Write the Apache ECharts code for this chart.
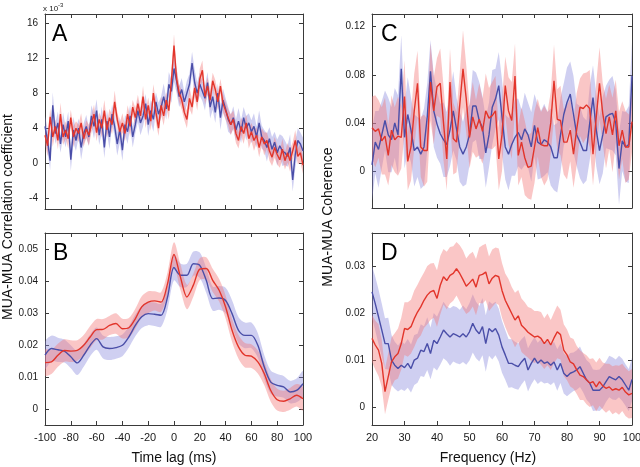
<!DOCTYPE html>
<html><head><meta charset="utf-8">
<script src="https://cdn.jsdelivr.net/npm/echarts@6/dist/echarts.min.js"></script>
<style>html,body{margin:0;padding:0;background:#fff}#c{width:640px;height:467px}</style>
</head><body><div id="c"></div>
<script>
// ---------- Panel A: cross-correlation (x 1e-3), lag -100..100 ms, 2 ms steps ----------
const aLags = Array.from({length: 101}, (_, i) => -100 + 2 * i);
const aRed = [
  3.2,2.0,5.3,3.0,4.2,2.6,5.6,3.0,3.8,2.8,
  5.2,3.0,4.0,3.4,4.6,2.8,3.9,3.2,4.4,5.6,
  3.5,5.0,4.0,6.0,3.8,5.2,4.4,7.0,5.0,3.6,
  4.6,3.4,5.6,4.2,6.4,5.2,6.8,5.4,7.6,5.0,
  6.6,4.8,8.0,5.8,4.0,6.6,5.4,7.2,6.0,9.4,
  13.4,9.6,8.0,7.2,5.8,5.0,7.4,6.4,8.6,7.0,
  9.6,10.6,7.6,8.8,7.2,9.4,8.4,7.0,8.8,6.8,
  6.0,5.2,4.4,5.0,3.4,2.6,4.2,3.4,4.6,2.8,
  3.6,2.6,3.2,1.8,3.0,2.2,2.6,1.4,0.7,1.8,
  1.0,0.4,1.6,0.3,1.2,0.3,1.4,2.6,0.8,1.2,
  -0.2];
const aRedErr = [
  1.0,1.2,0.9,1.1,0.8,1.0,1.3,0.9,1.0,1.1,
  0.9,1.2,0.8,1.0,1.1,0.9,1.0,1.2,0.9,1.1,
  1.0,0.8,1.1,1.2,0.9,1.0,1.1,1.3,0.9,1.0,
  1.1,0.9,1.0,1.2,0.8,1.1,1.0,0.9,1.2,1.0,
  0.9,1.1,1.0,1.2,0.9,1.0,1.1,0.9,1.0,1.2,
  1.3,1.2,1.0,1.1,0.9,1.0,1.2,0.9,1.1,1.0,
  1.2,1.1,0.9,1.0,1.2,0.9,1.1,1.0,0.8,1.1,
  1.0,0.9,1.2,1.0,1.1,0.9,1.0,1.2,0.9,1.1,
  1.0,1.2,0.9,1.1,1.0,1.3,0.9,1.1,1.0,1.2,
  1.1,0.9,1.2,1.0,1.1,1.3,1.0,1.2,0.9,1.1,
  1.0];
const aBlue = [
  4.2,2.6,0.3,6.6,3.4,4.6,2.2,4.4,3.0,4.8,
  0.4,3.8,2.6,4.0,1.8,3.4,4.2,3.0,5.4,4.2,
  6.0,3.2,5.0,1.8,4.8,3.0,5.6,4.2,2.2,3.8,
  1.5,4.4,3.6,5.4,3.0,4.4,6.0,4.6,5.4,6.8,
  4.4,6.0,5.0,7.0,5.6,6.4,7.6,6.2,9.0,8.2,
  10.8,9.4,7.6,8.4,7.0,8.0,9.0,11.4,9.2,8.0,
  9.0,8.2,7.4,9.2,6.4,7.6,5.8,8.0,5.2,7.2,
  6.2,5.0,4.4,5.2,3.8,4.8,3.6,5.2,4.0,4.6,
  3.6,4.2,3.0,4.6,3.0,2.6,1.8,2.8,1.6,2.4,
  1.2,2.0,1.4,1.2,0.8,1.8,-1.9,1.0,2.6,2.2,
  1.4];
const aBlueErr = [
  1.2,1.4,1.1,1.5,1.2,1.3,1.0,1.4,1.2,1.1,
  1.3,1.5,1.2,1.1,1.4,1.2,1.3,1.0,1.2,1.4,
  1.3,1.1,1.5,1.2,1.3,1.4,1.1,1.2,1.3,1.5,
  1.2,1.1,1.4,1.3,1.2,1.0,1.3,1.4,1.2,1.1,
  1.3,1.2,1.4,1.1,1.3,1.2,1.5,1.2,1.4,1.3,
  1.5,1.4,1.2,1.3,1.1,1.4,1.2,1.3,1.5,1.2,
  1.3,1.1,1.4,1.2,1.3,1.5,1.2,1.1,1.4,1.3,
  1.2,1.4,1.1,1.3,1.2,1.5,1.3,1.2,1.4,1.1,
  1.3,1.5,1.2,1.4,1.3,1.2,1.6,1.3,1.4,1.2,
  1.5,1.3,1.7,1.4,1.2,1.5,1.3,1.6,1.4,1.3,
  1.5];

// ---------- Panel B: smoothed correlation, 5 ms steps ----------
const bLags = Array.from({length: 41}, (_, i) => -100 + 5 * i);
const bRed = [
  0.0146,0.0148,0.0169,0.0184,0.0182,0.0184,0.0200,0.0226,0.0249,0.0250,
  0.0262,0.0268,0.0252,0.0255,0.0283,0.0320,0.0335,0.0339,0.0335,0.0393,
  0.0484,0.0413,0.0351,0.0388,0.0438,0.0440,0.0403,0.0372,0.0320,0.0247,
  0.0195,0.0169,0.0166,0.0148,0.0111,0.0059,0.0030,0.0025,0.0033,0.0044,
  0.0033];
const bRedErr = [
  0.0040,0.0038,0.0036,0.0035,0.0034,0.0032,0.0032,0.0034,0.0033,0.0032,
  0.0030,0.0032,0.0031,0.0030,0.0031,0.0033,0.0034,0.0030,0.0031,0.0035,
  0.0038,0.0040,0.0038,0.0036,0.0034,0.0035,0.0036,0.0035,0.0036,0.0036,
  0.0037,0.0038,0.0037,0.0036,0.0036,0.0035,0.0034,0.0033,0.0034,0.0035,
  0.0036];
const bBlue = [
  0.0169,0.0190,0.0186,0.0182,0.0164,0.0145,0.0169,0.0200,0.0221,0.0195,
  0.0190,0.0193,0.0200,0.0226,0.0262,0.0289,0.0299,0.0297,0.0294,0.0351,
  0.0443,0.0419,0.0419,0.0455,0.0450,0.0403,0.0346,0.0348,0.0340,0.0299,
  0.0247,0.0231,0.0231,0.0200,0.0132,0.0085,0.0075,0.0070,0.0054,0.0059,
  0.0080];
const bBlueErr = [
  0.0042,0.0040,0.0038,0.0036,0.0036,0.0038,0.0036,0.0034,0.0035,0.0036,
  0.0036,0.0035,0.0034,0.0033,0.0034,0.0035,0.0036,0.0037,0.0036,0.0038,
  0.0040,0.0037,0.0036,0.0038,0.0040,0.0039,0.0038,0.0037,0.0040,0.0042,
  0.0041,0.0040,0.0040,0.0038,0.0037,0.0036,0.0035,0.0034,0.0035,0.0037,
  0.0039];

// ---------- Panels C and D: coherence, 20..100 Hz, 1 Hz steps ----------
const freqs = Array.from({length: 81}, (_, i) => 20 + i);
const cRed = [
  0.036,0.033,0.035,0.025,0.029,0.013,0.034,0.026,0.029,0.028,
  0.062,0.008,0.020,0.050,0.073,0.020,0.017,0.017,0.074,0.050,
  0.070,0.073,0.040,0.010,0.074,0.027,0.024,0.055,0.085,0.060,
  0.028,0.045,0.035,0.043,0.033,0.050,0.044,0.046,0.050,0.010,
  0.030,0.071,0.050,0.042,0.079,0.013,0.024,0.011,0.003,0.004,
  0.020,0.036,0.022,0.021,0.021,0.040,0.075,0.043,0.042,0.024,
  0.024,0.034,0.014,0.035,0.053,0.052,0.055,0.052,0.014,0.045,
  0.073,0.048,0.031,0.045,0.030,0.050,0.021,0.034,0.020,0.020,
  0.041];
const cRedErr = [
  0.026,0.030,0.024,0.028,0.032,0.025,0.029,0.027,0.033,0.026,
  0.030,0.024,0.028,0.031,0.027,0.025,0.030,0.026,0.032,0.028,
  0.024,0.029,0.031,0.026,0.028,0.030,0.025,0.027,0.032,0.028,
  0.026,0.029,0.024,0.030,0.027,0.031,0.025,0.028,0.029,0.026,
  0.030,0.024,0.028,0.032,0.027,0.025,0.029,0.031,0.026,0.028,
  0.030,0.024,0.027,0.033,0.028,0.026,0.030,0.025,0.029,0.027,
  0.031,0.026,0.028,0.030,0.024,0.029,0.027,0.032,0.026,0.028,
  0.030,0.025,0.029,0.027,0.031,0.026,0.028,0.024,0.030,0.027,
  0.025];
const cBlue = [
  0.005,0.024,0.018,0.030,0.042,0.030,0.026,0.040,0.030,0.085,
  0.028,0.047,0.034,0.017,0.020,0.014,0.020,0.045,0.083,0.050,
  0.039,0.031,0.026,0.022,0.034,0.050,0.035,0.020,0.014,0.020,
  0.030,0.054,0.054,0.042,0.036,0.015,0.030,0.053,0.060,0.071,
  0.045,0.020,0.014,0.022,0.028,0.032,0.026,0.035,0.030,0.020,
  0.038,0.024,0.022,0.026,0.024,0.020,0.011,0.011,0.030,0.047,
  0.057,0.064,0.047,0.030,0.024,0.017,0.017,0.040,0.061,0.034,
  0.017,0.030,0.045,0.047,0.048,0.040,0.002,0.025,0.020,0.022,
  0.079];
const cBlueErr = [
  0.030,0.026,0.032,0.028,0.025,0.031,0.027,0.029,0.033,0.028,
  0.026,0.031,0.027,0.030,0.025,0.029,0.032,0.028,0.026,0.030,
  0.028,0.025,0.031,0.027,0.030,0.033,0.026,0.029,0.027,0.031,
  0.025,0.030,0.028,0.032,0.026,0.029,0.027,0.031,0.025,0.028,
  0.031,0.027,0.030,0.026,0.032,0.028,0.025,0.030,0.027,0.029,
  0.026,0.031,0.028,0.030,0.025,0.032,0.027,0.029,0.031,0.026,
  0.029,0.027,0.032,0.026,0.030,0.028,0.025,0.031,0.027,0.030,
  0.028,0.032,0.026,0.029,0.031,0.027,0.030,0.025,0.029,0.032,
  0.028];
const dRed = [
  0.0147,0.0133,0.0122,0.0094,0.0034,0.0066,0.0097,0.0108,0.0115,0.0136,
  0.0168,0.0166,0.0172,0.0189,0.0203,0.0214,0.0228,0.0239,0.0246,0.0249,
  0.0232,0.0260,0.0278,0.0270,0.0281,0.0285,0.0295,0.0285,0.0272,0.0258,
  0.0265,0.0273,0.0256,0.0281,0.0283,0.0288,0.0263,0.0275,0.0281,0.0278,
  0.0249,0.0228,0.0214,0.0200,0.0186,0.0195,0.0175,0.0168,0.0160,0.0155,
  0.0150,0.0152,0.0147,0.0136,0.0145,0.0133,0.0148,0.0161,0.0155,0.0122,
  0.0112,0.0097,0.0093,0.0080,0.0069,0.0066,0.0059,0.0052,0.0055,0.0044,
  0.0055,0.0046,0.0041,0.0044,0.0037,0.0040,0.0037,0.0043,0.0033,0.0027,
  0.0030];
const dRedErr = [
  0.0050,0.0052,0.0055,0.0050,0.0048,0.0050,0.0052,0.0050,0.0053,0.0055,
  0.0056,0.0058,0.0057,0.0060,0.0058,0.0061,0.0059,0.0062,0.0060,0.0058,
  0.0060,0.0062,0.0059,0.0061,0.0060,0.0058,0.0057,0.0060,0.0062,0.0059,
  0.0061,0.0058,0.0060,0.0059,0.0062,0.0060,0.0058,0.0061,0.0059,0.0060,
  0.0058,0.0057,0.0059,0.0056,0.0058,0.0055,0.0057,0.0056,0.0054,0.0056,
  0.0055,0.0053,0.0056,0.0054,0.0055,0.0053,0.0054,0.0056,0.0053,0.0055,
  0.0054,0.0052,0.0053,0.0051,0.0053,0.0050,0.0052,0.0051,0.0050,0.0052,
  0.0051,0.0050,0.0052,0.0049,0.0051,0.0050,0.0052,0.0050,0.0051,0.0050,
  0.0052];
const dBlue = [
  0.0246,0.0221,0.0193,0.0165,0.0136,0.0136,0.0101,0.0090,0.0083,0.0090,
  0.0085,0.0094,0.0083,0.0101,0.0105,0.0122,0.0119,0.0136,0.0115,0.0143,
  0.0136,0.0150,0.0165,0.0157,0.0150,0.0157,0.0154,0.0150,0.0157,0.0150,
  0.0161,0.0179,0.0165,0.0157,0.0172,0.0136,0.0168,0.0161,0.0168,0.0154,
  0.0129,0.0112,0.0094,0.0094,0.0090,0.0087,0.0097,0.0105,0.0080,0.0094,
  0.0105,0.0094,0.0101,0.0094,0.0097,0.0090,0.0097,0.0080,0.0094,0.0073,
  0.0066,0.0073,0.0076,0.0080,0.0087,0.0073,0.0059,0.0052,0.0037,0.0037,
  0.0037,0.0044,0.0055,0.0066,0.0062,0.0059,0.0066,0.0059,0.0048,0.0037,
  0.0060];
const dBlueErr = [
  0.0055,0.0057,0.0058,0.0056,0.0054,0.0055,0.0053,0.0050,0.0049,0.0051,
  0.0050,0.0052,0.0051,0.0053,0.0052,0.0055,0.0054,0.0056,0.0055,0.0058,
  0.0057,0.0059,0.0060,0.0058,0.0061,0.0059,0.0060,0.0058,0.0060,0.0059,
  0.0061,0.0062,0.0060,0.0059,0.0061,0.0060,0.0058,0.0059,0.0057,0.0056,
  0.0055,0.0053,0.0052,0.0051,0.0050,0.0049,0.0048,0.0047,0.0046,0.0045,
  0.0045,0.0044,0.0045,0.0043,0.0044,0.0042,0.0043,0.0044,0.0042,0.0043,
  0.0042,0.0043,0.0041,0.0042,0.0043,0.0041,0.0042,0.0043,0.0044,0.0043,
  0.0044,0.0045,0.0043,0.0044,0.0045,0.0043,0.0044,0.0045,0.0044,0.0045,
  0.0046];

// ---------- tick labels ----------
const lagTicks = [-100,-80,-60,-40,-20,0,20,40,60,80,100];
const freqTicks = [20,30,40,50,60,70,80,90,100];
const aYTicks = [-4,0,4,8,12,16];
const bYTicks = [0,0.01,0.02,0.03,0.04,0.05];
const cYTicks = [0,0.04,0.08,0.12];
const dYTicks = [0,0.01,0.02,0.03];

const FONT = 'Liberation Sans, Arial, Helvetica, sans-serif';
const RED = '#e2352b', BLUE = '#4a4ea8';
const RED_BAND = 'rgba(242,120,120,0.42)', BLUE_BAND = 'rgba(135,135,220,0.40)';
const AX = '#3a3a3a';

const grids = [
  {left: 45, top: 14, width: 258, height: 195},
  {left: 45, top: 233, width: 258, height: 192},
  {left: 372, top: 14, width: 260, height: 194},
  {left: 372, top: 233, width: 260, height: 192}
];
const panels = [
  {xr: [-100, 100], yr: [-5.2, 17.0], xt: lagTicks, yt: aYTicks, xlab: false},
  {xr: [-100, 100], yr: [-0.0049, 0.0551], xt: lagTicks, yt: bYTicks, xlab: true},
  {xr: [20, 100], yr: [-0.0308, 0.1306], xt: freqTicks, yt: cYTicks, xlab: false},
  {xr: [20, 100], yr: [-0.0037, 0.0371], xt: freqTicks, yt: dYTicks, xlab: true}
];

const xAxes = [], yAxes = [];
panels.forEach((p, g) => {
  ['bottom', 'top'].forEach(pos => {
    xAxes.push({
      type: 'value', gridIndex: g, position: pos, min: p.xr[0], max: p.xr[1],
      splitLine: {show: false},
      axisLine: {show: true, onZero: false, lineStyle: {color: AX, width: 1}},
      axisTick: {show: true, inside: true, length: 4, lineStyle: {color: AX}, customValues: p.xt},
      axisLabel: {show: pos === 'bottom' && p.xlab, customValues: p.xt, margin: 7,
                  color: '#1a1a1a', fontSize: 11, fontFamily: FONT}
    });
  });
  ['left', 'right'].forEach(pos => {
    yAxes.push({
      type: 'value', gridIndex: g, position: pos, min: p.yr[0], max: p.yr[1],
      splitLine: {show: false},
      axisLine: {show: true, onZero: false, lineStyle: {color: AX, width: 1}},
      axisTick: {show: true, inside: true, length: 4, lineStyle: {color: AX}, customValues: p.yt},
      axisLabel: {show: pos === 'left', customValues: p.yt, margin: 7,
                  color: '#1a1a1a', fontSize: 10, fontFamily: FONT,
                  formatter: v => String(+v.toFixed(4))}
    });
  });
});

function band(xs, ys, err, color, g, smooth) {
  return {
    type: 'custom', xAxisIndex: 2 * g, yAxisIndex: 2 * g, silent: true, animation: false,
    clip: true, data: [[xs[0], ys[0]]],
    renderItem: function (params, api) {
      if (params.dataIndex !== 0) return null;
      const pts = [];
      for (let i = 0; i < xs.length; i++) pts.push(api.coord([xs[i], ys[i] + err[i]]));
      for (let i = xs.length - 1; i >= 0; i--) pts.push(api.coord([xs[i], ys[i] - err[i]]));
      return {type: 'polygon', shape: {points: pts, smooth: smooth || 0}, style: {fill: color, stroke: null}};
    }
  };
}
function line(xs, ys, color, g, smooth) {
  return {
    type: 'line', xAxisIndex: 2 * g, yAxisIndex: 2 * g, silent: true, animation: false,
    symbol: 'none', showSymbol: false, smooth: smooth || false,
    data: xs.map((x, i) => [x, ys[i]]),
    lineStyle: {color: color, width: 1.4}, itemStyle: {color: color}
  };
}

const series = [
  band(aLags, aBlue, aBlueErr, BLUE_BAND, 0), line(aLags, aBlue, BLUE, 0),
  band(aLags, aRed, aRedErr, RED_BAND, 0), line(aLags, aRed, RED, 0),
  band(bLags, bBlue, bBlueErr, BLUE_BAND, 1, 0.3), line(bLags, bBlue, BLUE, 1, 0.3),
  band(bLags, bRed, bRedErr, RED_BAND, 1, 0.3), line(bLags, bRed, RED, 1, 0.3),
  band(freqs, cBlue, cBlueErr, BLUE_BAND, 2), line(freqs, cBlue, BLUE, 2),
  band(freqs, cRed, cRedErr, RED_BAND, 2), line(freqs, cRed, RED, 2),
  band(freqs, dBlue, dBlueErr, BLUE_BAND, 3), line(freqs, dBlue, BLUE, 3),
  band(freqs, dRed, dRedErr, RED_BAND, 3), line(freqs, dRed, RED, 3)
];

const letterStyle = {fontSize: 23, fontFamily: FONT, fill: '#000'};
const graphic = [
  {type: 'text', left: 52, top: 23, style: Object.assign({text: 'A'}, letterStyle)},
  {type: 'text', left: 53, top: 242, style: Object.assign({text: 'B'}, letterStyle)},
  {type: 'text', left: 381, top: 23, style: Object.assign({text: 'C'}, letterStyle)},
  {type: 'text', left: 381, top: 242, style: Object.assign({text: 'D'}, letterStyle)},
  {type: 'text', left: 43, top: 2, style: {
    text: '{a|x 10}{b|-3}', fontFamily: FONT,
    rich: {a: {fontSize: 8, fontFamily: FONT, fill: '#222', padding: [3, 0, 0, 0]},
           b: {fontSize: 6, fontFamily: FONT, fill: '#222', verticalAlign: 'top'}}}},
  {type: 'text', x: 174, y: 458, style: {text: 'Time lag (ms)', fontSize: 14, fontFamily: FONT, fill: '#111',
    textAlign: 'center', textVerticalAlign: 'middle'}},
  {type: 'text', x: 488, y: 458, style: {text: 'Frequency (Hz)', fontSize: 14, fontFamily: FONT, fill: '#111',
    textAlign: 'center', textVerticalAlign: 'middle'}},
  {type: 'text', x: 8, y: 217, rotation: Math.PI / 2, style: {text: 'MUA-MUA Correlation coefficient',
    fontSize: 14, fontFamily: FONT, fill: '#111', textAlign: 'center', textVerticalAlign: 'middle'}},
  {type: 'text', x: 328, y: 217, rotation: Math.PI / 2, style: {text: 'MUA-MUA Coherence',
    fontSize: 14, fontFamily: FONT, fill: '#111', textAlign: 'center', textVerticalAlign: 'middle'}}
];

const chart = echarts.init(document.getElementById('c'), null, {renderer: 'canvas', width: 640, height: 467});
chart.setOption({
  animation: false,
  backgroundColor: '#fff',
  grid: grids.map(g => Object.assign({containLabel: false, outerBoundsMode: 'none', show: false}, g)),
  xAxis: xAxes,
  yAxis: yAxes,
  series: series,
  graphic: graphic
});
</script>
</body></html>
